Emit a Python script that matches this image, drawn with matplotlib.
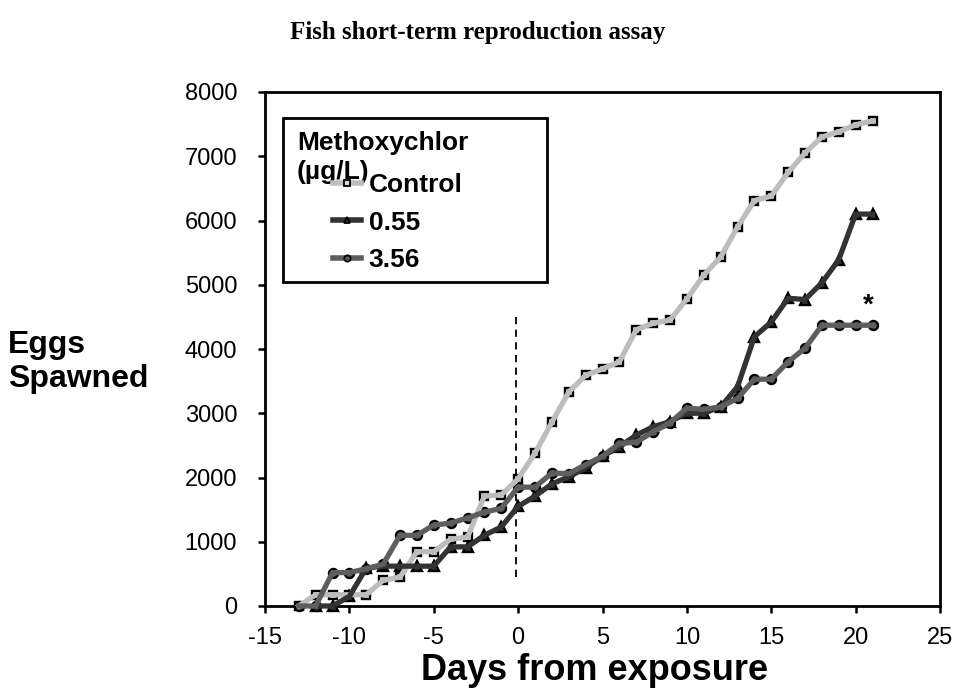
import matplotlib
matplotlib.use("Agg")
import matplotlib.pyplot as plt
from matplotlib.patches import Rectangle

days_control = [-13, -12, -11, -10, -9, -8, -7, -6, -5, -4, -3, -2, -1, 0, 1, 2, 3, 4, 5, 6, 7, 8, 9, 10, 11, 12, 13, 14, 15, 16, 17, 18, 19, 20, 21]
eggs_control = [0, 175, 175, 175, 175, 400, 450, 845, 845, 1040, 1070, 1710, 1730, 1980, 2380, 2860, 3330, 3590, 3690, 3800, 4300, 4400, 4450, 4780, 5150, 5430, 5900, 6310, 6380, 6750, 7050, 7300, 7380, 7490, 7550]

days_055 = [-12, -11, -10, -9, -8, -7, -6, -5, -4, -3, -2, -1, 0, 1, 2, 3, 4, 5, 6, 7, 8, 9, 10, 11, 12, 13, 14, 15, 16, 17, 18, 19, 20, 21]
eggs_055 = [0, 0, 150, 590, 620, 620, 620, 620, 920, 920, 1100, 1230, 1550, 1710, 1900, 2010, 2150, 2330, 2480, 2660, 2790, 2870, 3000, 3000, 3100, 3410, 4190, 4420, 4790, 4770, 5030, 5390, 6100, 6100]

days_356 = [-13, -12, -11, -10, -9, -8, -7, -6, -5, -4, -3, -2, -1, 0, 1, 2, 3, 4, 5, 6, 7, 8, 9, 10, 11, 12, 13, 14, 15, 16, 17, 18, 19, 20, 21]
eggs_356 = [0, 0, 520, 520, 580, 650, 1100, 1100, 1260, 1290, 1370, 1460, 1520, 1850, 1850, 2070, 2060, 2200, 2330, 2530, 2550, 2710, 2850, 3080, 3060, 3100, 3230, 3530, 3530, 3800, 4010, 4370, 4370, 4370, 4370]

series_labels = ["Control", "0.55", "3.56"]
legend_title = "Methoxychlor\n(\u00b5g/L)"
x_ticks = [-15, -10, -5, 0, 5, 10, 15, 20, 25]
y_ticks = [0, 1000, 2000, 3000, 4000, 5000, 6000, 7000, 8000]
exposure_day = -0.1
exposure_span = [450, 4500]
star_pos = (20.75, 4560)

W, H = 957, 688
fig = plt.figure(figsize=(W / 100, H / 100), dpi=100)
ax = fig.add_axes([265 / W, 1 - 606 / H, 675 / W, 514 / H])

specs = [
    (days_control, eggs_control, "#bdbdbd", "s", "#d9d9d9", 6),
    (days_055, eggs_055, "#333333", "^", "#333333", 6.5),
    (days_356, eggs_356, "#5e5e5e", "o", "#5e5e5e", 6.5),
]
handles = []
for (xd, yd, col, mk, fc, ms), lab in zip(specs, series_labels):
    ax.plot(xd, yd, linestyle="none", marker=mk, markersize=ms,
            markerfacecolor=fc, markeredgecolor="black", markeredgewidth=1.7,
            zorder=3, clip_on=False)
    ax.plot(xd, yd, color=col, linewidth=3.8, zorder=4, solid_joinstyle="round",
            clip_on=False)
    h, = ax.plot([], [], color=col, linewidth=4, marker=mk, markersize=4.5,
                 markerfacecolor=fc, markeredgecolor="black", markeredgewidth=1.3,
                 label=lab)
    handles.append(h)

ax.plot([exposure_day, exposure_day], exposure_span, color="black",
        linestyle=(0, (4, 3)), linewidth=1.3, zorder=2)
ax.text(star_pos[0], star_pos[1], "*", fontsize=20, fontweight="bold",
        family="Liberation Sans", ha="center", va="baseline")

ax.set_xlim(-15, 25)
ax.set_ylim(0, 8000)
ax.set_xticks(x_ticks)
ax.set_yticks(y_ticks)
ax.set_xticklabels([str(t) for t in x_ticks], family="Liberation Sans", fontsize=17)
ax.set_yticklabels([str(t) for t in y_ticks], family="Liberation Sans", fontsize=17)
ax.tick_params(direction="out", length=5, width=1.8)
ax.tick_params(axis="x", pad=10)
ax.tick_params(axis="y", pad=15)
for s in ax.spines.values():
    s.set_linewidth(2)

# legend frame and title
ax.add_patch(Rectangle((18 / 675, (606 - 282) / 514), (547 - 283) / 675, (282 - 118) / 514,
                       transform=ax.transAxes, fill=False, edgecolor="black",
                       linewidth=2, zorder=5))
ax.text(32 / 675, (606 - 131) / 514, legend_title, transform=ax.transAxes,
        fontsize=19, fontweight="bold", family="Liberation Sans",
        ha="left", va="top", linespacing=1.25, zorder=6)
leg = ax.legend(handles=handles, loc="upper left",
                bbox_to_anchor=(68 / 675, (606 - 173) / 514),
                frameon=False, handlelength=1.05, handletextpad=0.3,
                labelspacing=0.52, borderpad=0, borderaxespad=0,
                prop={"family": "Liberation Sans", "weight": "bold", "size": 19})
leg.set_zorder(6)

fig.text(8 / W, 1 - 362 / H, "Eggs\nSpawned", fontsize=23, fontweight="bold",
         family="Liberation Sans", ha="left", va="center", linespacing=1.2)
fig.text(595 / W, 1 - 671 / H, "Days from exposure", fontsize=26, fontweight="bold",
         family="Liberation Sans", ha="center", va="center")
fig.text(478 / W, 1 - 33 / H, "Fish short-term reproduction assay", fontsize=18,
         fontweight="bold", family="Liberation Serif", ha="center", va="center")

fig.savefig("out.png", dpi=100)
